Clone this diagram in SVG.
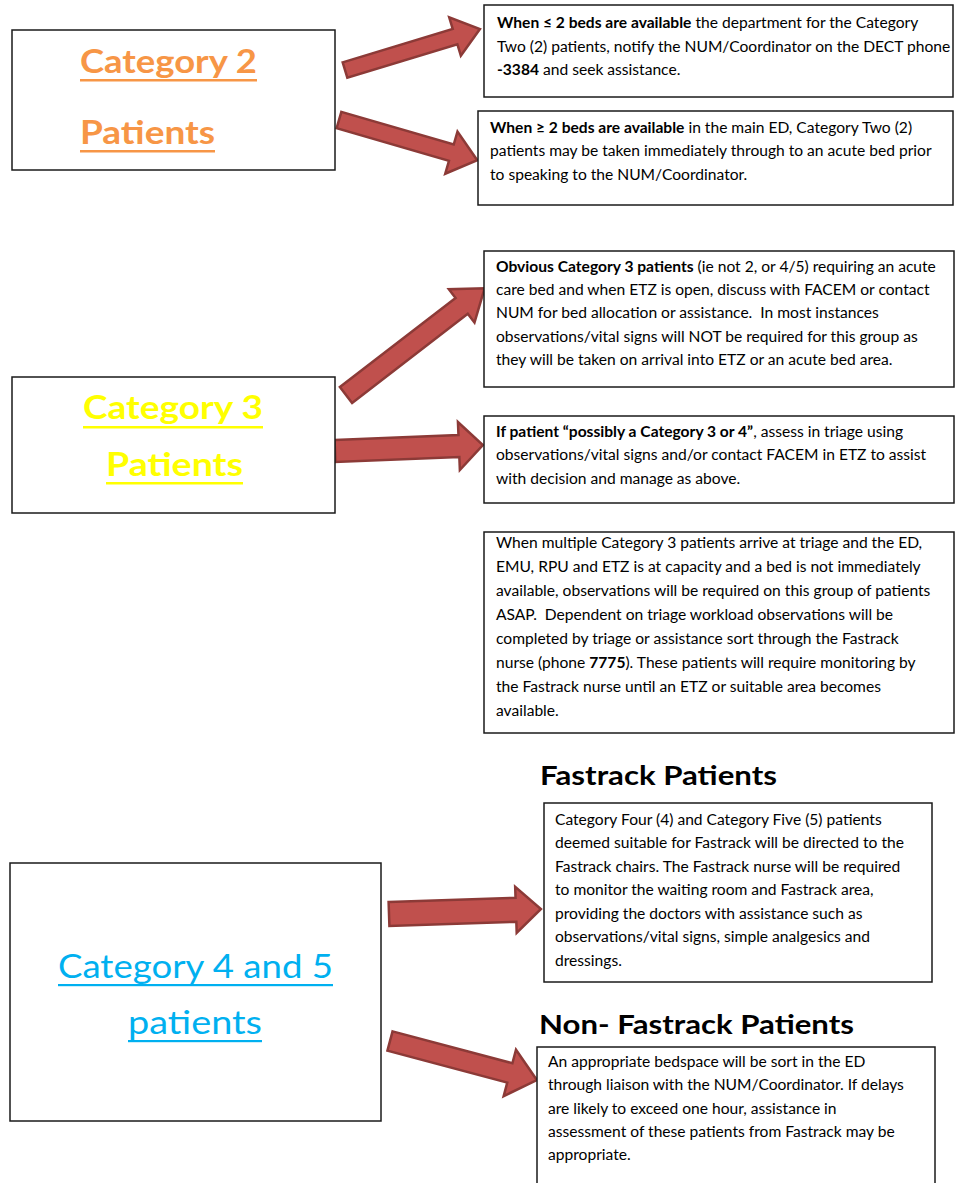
<svg xmlns="http://www.w3.org/2000/svg" width="955" height="1183" viewBox="0 0 955 1183">
<defs>
<style>
.box{fill:#fff;stroke:#1a1a1a;stroke-width:1.5}
.arr{fill:#C0504D;stroke:#8C3A37;stroke-width:2.5;stroke-linejoin:miter}
.t{font-family:Lato,"Open Sans","Liberation Sans",sans-serif;font-size:15.6px;fill:#000}
.b{font-weight:bold}
.h{font-family:Lato,"Open Sans","Liberation Sans",sans-serif}
.hd{font-family:Lato,"Open Sans","Liberation Sans",sans-serif;font-weight:bold;font-size:26px;fill:#000}
</style>
</defs>
<rect width="955" height="1183" fill="#fff"/>

<g id="connectors">
<polygon class="arr" transform="translate(345,70) rotate(-16.9)" points="0,-8 115,-8 115,-20 141,0 115,20 115,8 0,8"/>
<polygon class="arr" transform="translate(339,120) rotate(16.2)" points="0,-8.5 117,-8.5 117,-22 144,0 117,22 117,8.5 0,8.5"/>
<polygon class="arr" transform="translate(346,395) rotate(-37.6)" points="0,-10 146,-10 146,-21 175,0 146,21 146,10 0,10"/>
<polygon class="arr" transform="translate(335,451) rotate(-2.3)" points="0,-11 124,-11 124,-24 148,0 124,24 124,11 0,11"/>
<polygon class="arr" transform="translate(389,914) rotate(-1.9)" points="0,-12 127,-12 127,-23 152,0 127,23 127,12 0,12"/>
<polygon class="arr" transform="translate(390,1041) rotate(14.9)" points="0,-10 124,-10 124,-24 152,0 124,24 124,10 0,10"/>
</g>

<g id="cat2">
<rect class="box" x="12" y="30" width="323" height="140"/>
<text class="h" x="80" y="73" font-size="33" font-weight="bold" fill="#F79646" textLength="177" lengthAdjust="spacingAndGlyphs">Category 2</text>
<rect x="80" y="79" width="177" height="2.5" fill="#F79646"/>
<text class="h" x="80" y="144" font-size="33" font-weight="bold" fill="#F79646" textLength="135" lengthAdjust="spacingAndGlyphs">Patients</text>
<rect x="80" y="150" width="135" height="2.5" fill="#F79646"/>
</g>

<g id="cat2-low">
<rect class="box" x="484" y="5" width="469" height="92"/>
<text class="t" x="497" y="28"><tspan class="b">When ≤ 2 beds are available</tspan> the department for the Category</text>
<text class="t" x="497" y="52">Two (2) patients, notify the NUM/Coordinator on the DECT phone</text>
<text class="t" x="497" y="75"><tspan class="b">-3384</tspan> and seek assistance.</text>
</g>

<g id="cat2-high">
<rect class="box" x="478" y="111" width="475" height="94"/>
<text class="t" x="490" y="133"><tspan class="b">When ≥ 2 beds are available</tspan> in the main ED, Category Two (2)</text>
<text class="t" x="490" y="156">patients may be taken immediately through to an acute bed prior</text>
<text class="t" x="490" y="180">to speaking to the NUM/Coordinator.</text>
</g>

<g id="cat3-obvious">
<rect class="box" x="484" y="251" width="470" height="136"/>
<text class="t" x="496" y="272"><tspan class="b">Obvious Category 3 patients</tspan> (ie not 2, or 4/5) requiring an acute</text>
<text class="t" x="496" y="295">care bed and when ETZ is open, discuss with FACEM or contact</text>
<text class="t" x="496" y="318" xml:space="preserve">NUM for bed allocation or assistance.  In most instances</text>
<text class="t" x="496" y="342">observations/vital signs will NOT be required for this group as</text>
<text class="t" x="496" y="365">they will be taken on arrival into ETZ or an acute bed area.</text>
</g>

<g id="cat3">
<rect class="box" x="12" y="377" width="323" height="136"/>
<text class="h" x="83" y="419" font-size="33" font-weight="bold" fill="#FFFF00" textLength="180" lengthAdjust="spacingAndGlyphs">Category 3</text>
<rect x="83" y="426" width="180" height="2.5" fill="#FFFF00"/>
<text class="h" x="106" y="476" font-size="33" font-weight="bold" fill="#FFFF00" textLength="137" lengthAdjust="spacingAndGlyphs">Patients</text>
<rect x="106" y="482" width="137" height="2.5" fill="#FFFF00"/>
</g>

<g id="cat3-possible">
<rect class="box" x="484" y="416" width="470" height="87"/>
<text class="t" x="496" y="437"><tspan class="b">If patient “possibly a Category 3 or 4”</tspan>, assess in triage using</text>
<text class="t" x="496" y="460">observations/vital signs and/or contact FACEM in ETZ to assist</text>
<text class="t" x="496" y="484">with decision and manage as above.</text>
</g>

<g id="cat3-multiple">
<rect class="box" x="484" y="532" width="470" height="201"/>
<text class="t" x="496" y="548">When multiple Category 3 patients arrive at triage and the ED,</text>
<text class="t" x="496" y="572">EMU, RPU and ETZ is at capacity and a bed is not immediately</text>
<text class="t" x="496" y="596">available, observations will be required on this group of patients</text>
<text class="t" x="496" y="620" xml:space="preserve">ASAP.  Dependent on triage workload observations will be</text>
<text class="t" x="496" y="644">completed by triage or assistance sort through the Fastrack</text>
<text class="t" x="496" y="668">nurse (phone <tspan class="b">7775</tspan>). These patients will require monitoring by</text>
<text class="t" x="496" y="692">the Fastrack nurse until an ETZ or suitable area becomes</text>
<text class="t" x="496" y="716">available.</text>
</g>

<g id="fastrack">
<text class="hd" x="540" y="785" textLength="237" lengthAdjust="spacingAndGlyphs">Fastrack Patients</text>
<rect class="box" x="544" y="803" width="388" height="179"/>
<text class="t" x="555" y="825">Category Four (4) and Category Five (5) patients</text>
<text class="t" x="555" y="848">deemed suitable for Fastrack will be directed to the</text>
<text class="t" x="555" y="872">Fastrack chairs. The Fastrack nurse will be required</text>
<text class="t" x="555" y="895">to monitor the waiting room and Fastrack area,</text>
<text class="t" x="555" y="919">providing the doctors with assistance such as</text>
<text class="t" x="555" y="942">observations/vital signs, simple analgesics and</text>
<text class="t" x="555" y="966">dressings.</text>
</g>

<g id="cat45">
<rect class="box" x="10" y="863" width="371" height="258"/>
<text class="h" x="58" y="978" font-size="33" fill="#00B0F0" textLength="275" lengthAdjust="spacingAndGlyphs">Category 4 and 5</text>
<rect x="58" y="984" width="275" height="2.2" fill="#00B0F0"/>
<text class="h" x="128" y="1034" font-size="33" fill="#00B0F0" textLength="134" lengthAdjust="spacingAndGlyphs">patients</text>
<rect x="128" y="1040" width="134" height="2.2" fill="#00B0F0"/>
</g>

<g id="non-fastrack">
<text class="hd" x="539" y="1034" textLength="315" lengthAdjust="spacingAndGlyphs">Non- Fastrack Patients</text>
<rect class="box" x="537" y="1047" width="398" height="145"/>
<text class="t" x="548" y="1067">An appropriate bedspace will be sort in the ED</text>
<text class="t" x="548" y="1090">through liaison with the NUM/Coordinator. If delays</text>
<text class="t" x="548" y="1114">are likely to exceed one hour, assistance in</text>
<text class="t" x="548" y="1137">assessment of these patients from Fastrack may be</text>
<text class="t" x="548" y="1160">appropriate.</text>
</g>
</svg>
